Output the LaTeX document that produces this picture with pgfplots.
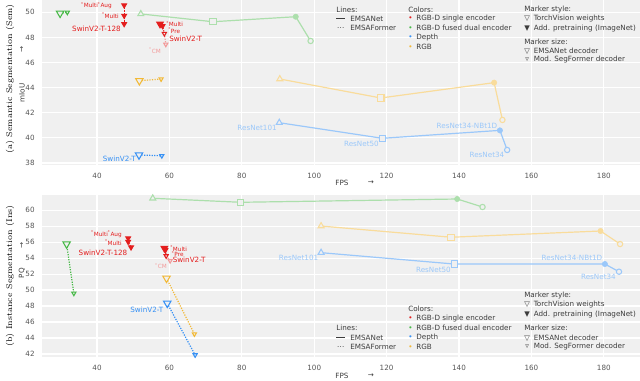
\documentclass[border=0pt]{standalone}
\usepackage{pgfplots}
\pgfplotsset{compat=1.18}
\usepackage{fontspec}
\newfontfamily\dv{DejaVu Sans}
\newcommand\fs[1]{\fontsize{#1}{#1}\selectfont}

\definecolor{bgray}{RGB}{240,240,240}
\definecolor{tgray}{RGB}{85,85,85}
\definecolor{lgray}{RGB}{60,60,60}
\definecolor{cred}{RGB}{228,30,30}
\definecolor{cgreen}{RGB}{70,185,70}
\definecolor{cblue}{RGB}{55,145,245}
\definecolor{corange}{RGB}{242,185,55}
\colorlet{lred}{cred!45!white}
\colorlet{lgreen}{cgreen!45!white}
\colorlet{lblue}{cblue!50!white}
\colorlet{lorange}{corange!50!white}

\pgfplotsset{
  panel/.style={scale only axis, width=448.5pt, xmin=24.8, xmax=190, anchor=north west,
    axis background/.style={fill=bgray},
    grid=major, major grid style={white, line width=0.8pt},
    axis line style={draw=none}, major tick length=0pt,
    xtick={40,60,...,180},
    tick label style={font=\dv\fs{5.4}, text=tgray},
    /pgf/number format/assume math mode=true,
    xticklabel style={yshift=-2.6pt}, yticklabel style={xshift=-2pt},
    clip=false},
  dtri/.style={only marks, mark=triangle*, mark options={rotate=180, solid, line width=0.8pt}},
  otri/.style={only marks, mark=triangle*, mark options={rotate=180, solid, line width=0.8pt, fill=bgray}},
}

% EMSANet series: ResNet101, ResNet50, ResNet34-NBt1D, ResNet34
\newcommand\net[5]{%
  \addplot[#1, line width=0.9pt] coordinates {#2 #3 #4 #5};
  \addplot[#1, only marks, mark=triangle*, mark size=2.6pt, mark options={fill=bgray, line width=0.8pt}] coordinates {#2};
  \addplot[#1, only marks, mark=square*, mark size=2.4pt, mark options={fill=bgray, line width=0.8pt}] coordinates {#3};
  \addplot[#1, only marks, mark=*, mark size=2pt] coordinates {#4};
  \addplot[#1, only marks, mark=*, mark size=2pt, mark options={fill=bgray, line width=0.8pt}] coordinates {#5};
}
% EMSAFormer series: EMSANet decoder, SegFormer decoder
\newcommand\former[3]{%
  \addplot[#1, densely dotted, line width=0.9pt] coordinates {#2 #3};
  \addplot[#1, otri, mark size=3.2pt] coordinates {#2};
  \addplot[#1, otri, mark size=1.8pt] coordinates {#3};
}

\begin{document}
\begin{tikzpicture}
\begin{axis}[panel, at={(0,0)}, height=123.4pt, ymin=37.88, ymax=50.98, ytick={38,40,...,50}]
  \net{lgreen}{(52.1,49.87)}{(72.0,49.25)}{(94.9,49.65)}{(99.0,47.72)}
  \net{lorange}{(90.5,44.69)}{(118.4,43.18)}{(149.7,44.40)}{(152.0,41.43)}
  \net{lblue}{(90.35,41.21)}{(118.8,39.97)}{(151.3,40.60)}{(153.3,39.04)}
  \former{cgreen}{(29.8,49.92)}{(31.8,50.00)}
  \former{corange}{(51.7,44.55)}{(57.7,44.69)}
  \former{cblue}{(51.6,38.64)}{(57.9,38.58)}
  % SwinV2-T-128
  \addplot[cred, densely dotted, line width=0.9pt] coordinates {(47.5,50.56) (47.5,49.73) (47.5,49.07)};
  \addplot[cred, dtri, mark size=2pt] coordinates {(47.5,50.56) (47.5,49.73) (47.5,49.07)};
  % SwinV2-T
  \addplot[lred, densely dotted, line width=0.9pt] coordinates {(58.6,48.30) (59.0,47.45)};
  \addplot[cred, densely dotted, line width=0.9pt] coordinates {(57.4,49.07) (58.1,48.91) (58.6,48.30)};
  \addplot[cred, dtri, mark size=2.8pt] coordinates {(57.4,49.07)};
  \addplot[cred, dtri, mark size=2pt] coordinates {(58.1,48.91)};
  \addplot[cred, otri, mark size=1.8pt] coordinates {(58.6,48.30)};
  \addplot[lred, otri, mark size=1.8pt] coordinates {(59.0,47.45)};
\end{axis}

\begin{axis}[panel, at={(0,-146.25pt)}, height=121.3pt, ymin=41.66, ymax=61.88, ytick={42,44,...,60}]
  \net{lgreen}{(55.4,61.47)}{(79.7,60.97)}{(139.5,61.38)}{(146.5,60.38)}
  \net{lorange}{(101.9,58.00)}{(137.8,56.60)}{(179.1,57.38)}{(184.5,55.75)}
  \net{lblue}{(101.9,54.67)}{(138.7,53.25)}{(180.3,53.25)}{(184.2,52.29)}
  \former{cgreen}{(31.6,55.75)}{(33.6,49.59)}
  \former{corange}{(59.2,51.47)}{(66.9,44.50)}
  \former{cblue}{(59.4,48.34)}{(67.1,41.88)}
  % SwinV2-T-128
  \addplot[cred, densely dotted, line width=0.9pt] coordinates {(48.6,56.47) (48.6,56.04) (49.4,55.34)};
  \addplot[cred, dtri, mark size=2pt] coordinates {(48.6,56.47) (48.6,56.04) (49.4,55.34)};
  % SwinV2-T
  \addplot[lred, densely dotted, line width=0.9pt] coordinates {(59.1,54.26) (60.2,53.67)};
  \addplot[cred, densely dotted, line width=0.9pt] coordinates {(58.6,55.22) (58.9,55.00) (59.1,54.26)};
  \addplot[cred, dtri, mark size=2.8pt] coordinates {(58.6,55.22)};
  \addplot[cred, dtri, mark size=2pt] coordinates {(58.9,55.00)};
  \addplot[cred, otri, mark size=1.8pt] coordinates {(59.1,54.26)};
  \addplot[lred, otri, mark size=1.8pt] coordinates {(60.2,53.67)};
\end{axis}

% labels, in pixels of the 640x380 frame
\begin{scope}[x=0.75pt, y=-0.75pt, shift={(-31.5pt,0pt)},
  lg/.style={anchor=west, inner sep=0pt, font=\dv\fs{5.4}, text=lgray},
  le/.style={anchor=east, inner sep=0pt, font=\dv\fs{5.4}},
  ls/.style={inner sep=0pt, font=\dv\fs{4.3}}]
  % axis titles
  \node[rotate=90, font=\fs{6.2}] at (10,79) {(a) Semantic Segmentation (Sem)};
  \node[rotate=90, font=\fs{6.2}] at (10,276) {(b) Instance Segmentation (Ins)};
  \node[rotate=90, font=\dv\fs{5.4}, text=lgray] at (22,93) {mIoU};
  \node[rotate=90, font=\dv\fs{5.4}, text=lgray] at (22,49) {→};
  \node[rotate=90, font=\dv\fs{5.4}, text=lgray] at (22,273) {PQ};
  \node[rotate=90, font=\dv\fs{5.4}, text=lgray] at (22,245) {→};
  \node[font=\dv\fs{5.4}, text=lgray] at (342,183) {FPS};
  \node[font=\dv\fs{5.4}, text=lgray] at (371,183) {→};
  \node[font=\dv\fs{5.4}, text=lgray] at (342,376) {FPS};
  \node[font=\dv\fs{5.4}, text=lgray] at (371,376) {→};

  % data labels, top
  \node[ls, anchor=east, text=cred] at (112,5.5) {\textsuperscript{*}Multi\textsuperscript{*}Aug};
  \node[ls, anchor=east, text=cred] at (119,15.5) {\textsuperscript{*}Multi};
  \node[le, text=cred] at (121,29) {SwinV2-T-128};
  \node[ls, anchor=west, text=cred] at (166,24) {\textsuperscript{*}Multi};
  \node[ls, anchor=west, text=cred] at (168,30.5) {\textsuperscript{*}Pre};
  \node[lg, text=cred] at (169,38.5) {SwinV2-T};
  \node[ls, anchor=east, text=lred] at (161,50.5) {\textsuperscript{*}CM};
  \node[le, text=cblue] at (136,159) {SwinV2-T};
  \node[le, text=lblue] at (277,127.5) {ResNet101};
  \node[le, text=lblue] at (379,144) {ResNet50};
  \node[le, text=lblue] at (497.5,125.7) {ResNet34-NBt1D};
  \node[le, text=lblue] at (504.5,155) {ResNet34};
  % data labels, bottom
  \node[ls, anchor=east, text=cred] at (122,234.3) {\textsuperscript{*}Multi\textsuperscript{*}Aug};
  \node[ls, anchor=east, text=cred] at (122,242.3) {\textsuperscript{*}Multi};
  \node[le, text=cred] at (127.5,252.7) {SwinV2-T-128};
  \node[ls, anchor=west, text=cred] at (170,248.3) {\textsuperscript{*}Multi};
  \node[ls, anchor=west, text=cred] at (171.5,254) {\textsuperscript{*}Pre};
  \node[lg, text=cred] at (172.5,260) {SwinV2-T};
  \node[ls, anchor=east, text=lred] at (167,266) {\textsuperscript{*}CM};
  \node[le, text=cblue] at (163.5,310) {SwinV2-T};
  \node[le, text=lblue] at (318.5,258.3) {ResNet101};
  \node[le, text=lblue] at (451,270) {ResNet50};
  \node[le, text=lblue] at (602.5,257.7) {ResNet34-NBt1D};
  \node[le, text=lblue] at (616,277.3) {ResNet34};

  % legends, top
  \node[lg] at (336,10) {Lines:};
  \node[lg] at (336,19) {\rule[0.3em]{6.75pt}{0.8pt}\hspace{3.75pt}EMSANet};
  \node[lg] at (336,28) {\makebox[6.75pt]{·\kern0.2pt·\kern0.2pt·}\hspace{3.75pt}EMSAFormer};
  \node[lg] at (408,10) {Colors:};
  \node[lg] at (408,19) {\textcolor{cred}{•}\hspace{2.9pt}RGB-D single encoder};
  \node[lg] at (408,28) {\textcolor{cgreen}{•}\hspace{2.9pt}RGB-D fused dual encoder};
  \node[lg] at (408,37.5) {\textcolor{cblue}{•}\hspace{2.9pt}Depth};
  \node[lg] at (408,47) {\textcolor{corange}{•}\hspace{2.9pt}RGB};
  \node[lg] at (524,10) {Marker style:};
  \node[lg] at (524,19) {▽\hspace{3pt}TorchVision weights};
  \node[lg] at (524,28.5) {▼\hspace{3pt}Add. pretraining (ImageNet)};
  \node[lg] at (524,42) {Marker size:};
  \node[lg] at (524,51) {▽\hspace{3pt}EMSANet decoder};
  \node[lg] at (524,59.5) {\makebox[4.2pt]{▿}\hspace{3pt}Mod. SegFormer decoder};
  % legends, bottom
  \node[lg] at (336,328.3) {Lines:};
  \node[lg] at (336,337.7) {\rule[0.3em]{6.75pt}{0.8pt}\hspace{3.75pt}EMSANet};
  \node[lg] at (336,346.7) {\makebox[6.75pt]{·\kern0.2pt·\kern0.2pt·}\hspace{3.75pt}EMSAFormer};
  \node[lg] at (408,309.3) {Colors:};
  \node[lg] at (408,319) {\textcolor{cred}{•}\hspace{2.9pt}RGB-D single encoder};
  \node[lg] at (408,328) {\textcolor{cgreen}{•}\hspace{2.9pt}RGB-D fused dual encoder};
  \node[lg] at (408,337.7) {\textcolor{cblue}{•}\hspace{2.9pt}Depth};
  \node[lg] at (408,346.7) {\textcolor{corange}{•}\hspace{2.9pt}RGB};
  \node[lg] at (524,295.7) {Marker style:};
  \node[lg] at (524,305) {▽\hspace{3pt}TorchVision weights};
  \node[lg] at (524,314.7) {▼\hspace{3pt}Add. pretraining (ImageNet)};
  \node[lg] at (524,328) {Marker size:};
  \node[lg] at (524,337.7) {▽\hspace{3pt}EMSANet decoder};
  \node[lg] at (524,346.7) {\makebox[4.2pt]{▿}\hspace{3pt}Mod. SegFormer decoder};
\end{scope}

\pgfresetboundingbox
\path[use as bounding box] (-31.5pt,0pt) rectangle (448.5pt,-285pt);
\end{tikzpicture}
\end{document}
